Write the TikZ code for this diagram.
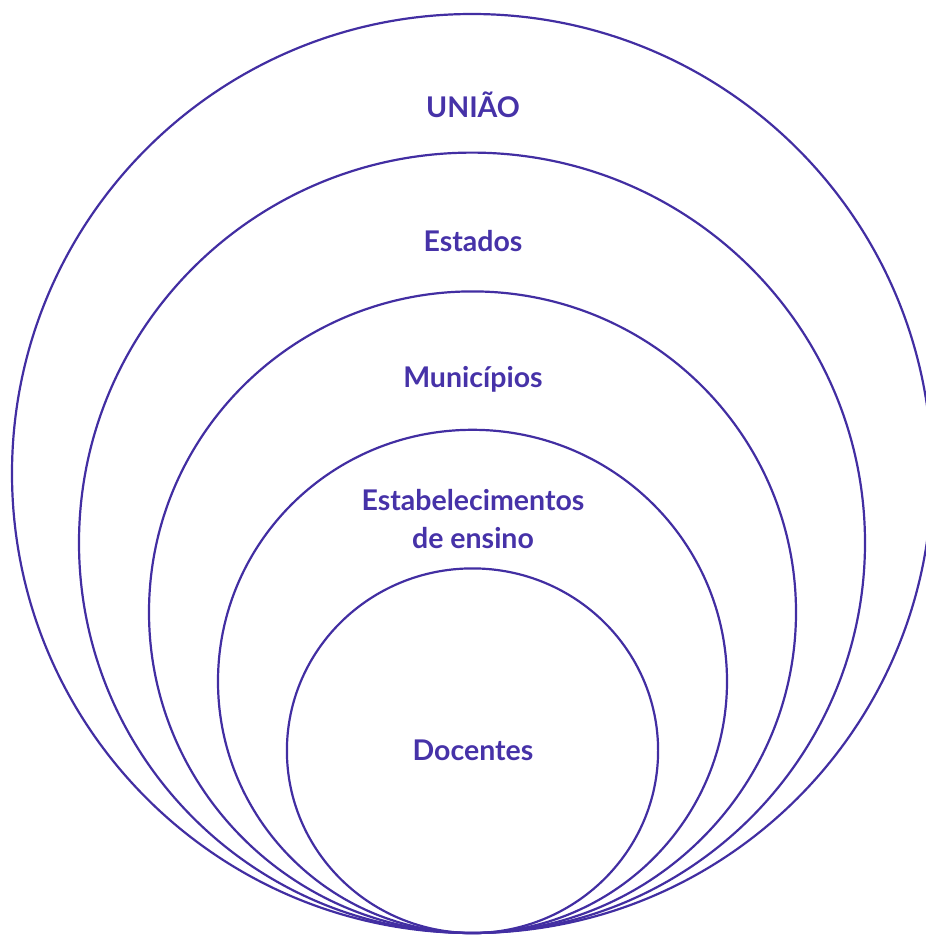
\documentclass[tikz,border=0pt]{standalone}
\usepackage{fontspec}
\setmainfont{Lato}[UprightFont=* Bold]
\definecolor{ring}{RGB}{66,46,162}
\definecolor{txt}{RGB}{70,50,168}
\begin{document}
\begin{tikzpicture}[x=1pt,y=-1pt,
  ringline/.style={draw=ring,line width=2.2pt},
  lbl/.style={text=txt,font=\fontsize{28.5}{38}\selectfont,align=center,inner sep=0pt}]
\useasboundingbox (0,0) rectangle (926,935);
\draw[ringline] (472,473.5) ellipse [x radius=460,y radius=459.5];
\draw[ringline] (472,542.8) ellipse [x radius=393,y radius=390.2];
\draw[ringline] (472.5,612.2) ellipse [x radius=323.5,y radius=320.8];
\draw[ringline] (472.5,681.4) ellipse [x radius=254.5,y radius=251.6];
\draw[ringline] (472.5,750.7) ellipse [x radius=185.6,y radius=182.3];
\node[lbl] (uniao) at (473,105) {UNIÃO};
\node[lbl] (estados) at (473,241) {Estados};
\node[lbl] (munic) at (473,379) {Municípios};
\node[lbl] (estab) at (473,519) {Estabelecimentos\\de ensino};
\node[lbl] (docentes) at (473,750) {Docentes};
\end{tikzpicture}
\end{document}
